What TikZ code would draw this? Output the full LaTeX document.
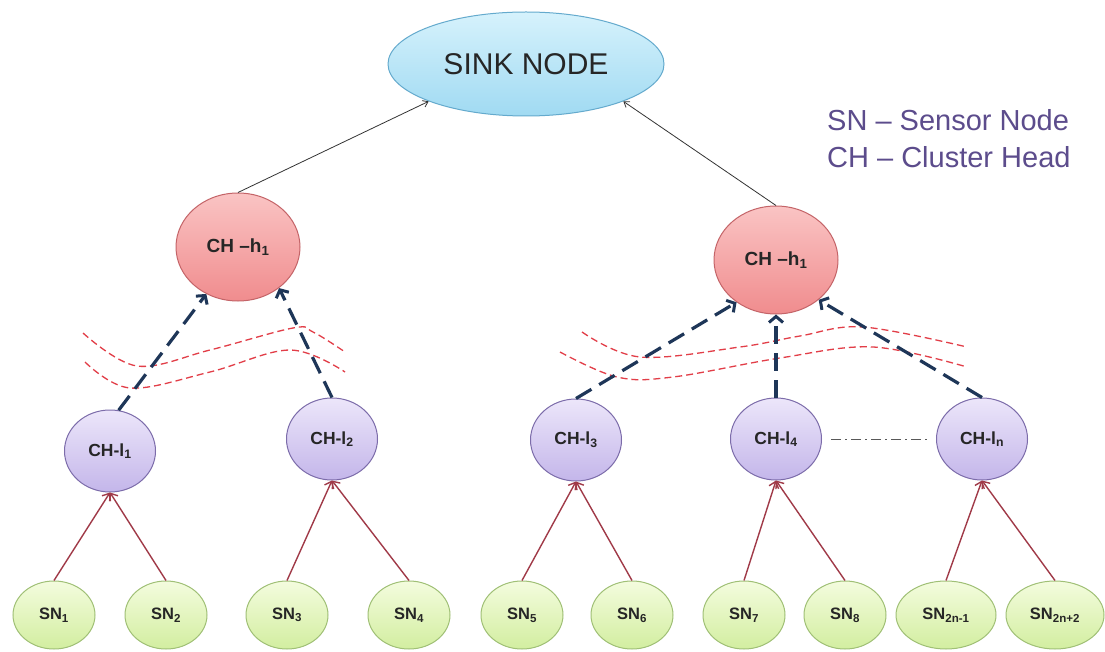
\documentclass[tikz,border=0pt]{standalone}
\usepackage{fontspec}
\setmainfont{Liberation Sans}
\usetikzlibrary{shapes.geometric,arrows.meta}
\definecolor{navy}{RGB}{30,54,88}
\definecolor{legendc}{RGB}{92,76,140}
\definecolor{wavec}{RGB}{226,62,72}
\definecolor{snarrow}{RGB}{160,58,72}
\definecolor{sinktop}{RGB}{214,242,252}
\definecolor{sinkbot}{RGB}{160,218,242}
\definecolor{sinkdraw}{RGB}{100,170,205}
\definecolor{hhtop}{RGB}{250,196,196}
\definecolor{hhbot}{RGB}{240,140,142}
\definecolor{hhdraw}{RGB}{196,100,104}
\definecolor{lltop}{RGB}{236,230,250}
\definecolor{llbot}{RGB}{196,182,234}
\definecolor{lldraw}{RGB}{124,108,170}
\definecolor{sntop}{RGB}{244,252,222}
\definecolor{snbot}{RGB}{210,238,160}
\definecolor{sndraw}{RGB}{160,192,118}
\begin{document}
\begin{tikzpicture}[x=1pt,y=-1pt,
  sinkbox/.style={ellipse,draw=sinkdraw,line width=1pt,top color=sinktop,bottom color=sinkbot,
    minimum width=276pt,minimum height=104pt,inner sep=0pt,
    font=\fontsize{30}{32}\selectfont,text=black!85},
  hhead/.style={ellipse,draw=hhdraw,line width=1pt,top color=hhtop,bottom color=hhbot,
    minimum width=124pt,minimum height=108pt,inner sep=0pt,
    font=\bfseries\fontsize{19}{21}\selectfont,text=black!85},
  lhead/.style={ellipse,draw=lldraw,line width=1pt,top color=lltop,bottom color=llbot,
    minimum width=91pt,minimum height=82pt,inner sep=0pt,
    font=\bfseries\fontsize{17.5}{19}\selectfont,text=black!85},
  snode/.style={ellipse,draw=sndraw,line width=1pt,top color=sntop,bottom color=snbot,
    minimum width=82pt,minimum height=68pt,inner sep=0pt,
    font=\bfseries\fontsize{16.5}{18}\selectfont,text=black!85},
  legendtext/.style={anchor=west,text=legendc,font=\fontsize{29}{31}\selectfont,inner sep=0pt},
  uparrow/.style={draw=black!80,line width=0.8pt,-{Straight Barb[length=5pt,width=7pt]}},
  navyarrow/.style={draw=navy,line width=3.2pt,dash pattern=on 18pt off 9pt,
    -{Straight Barb[length=6pt,width=14pt,line width=3pt]}},
  redarrow/.style={draw=snarrow,line width=1.4pt,-{Straight Barb[length=6pt,width=10pt,line width=1.4pt]}},
  wave/.style={draw=wavec,line width=1.3pt,dash pattern=on 7pt off 4pt},
  dotdash/.style={draw=black!65,line width=1pt,dash pattern=on 10pt off 4pt on 2pt off 4pt}
]
\useasboundingbox[fill=white] (0,0) rectangle (1105,652);

% waves
\draw[wave] plot[smooth,tension=0.6] coordinates {(83,333) (137,366) (210,350) (293,328) (313,332) (345,352)};
\draw[wave] plot[smooth,tension=0.6] coordinates {(85,362) (130,388) (210,372) (290,350) (345,372)};
\draw[wave] plot[smooth,tension=0.6] coordinates {(582,332) (640,357) (740,347) (800,336) (863,327) (967,347)};
\draw[wave] plot[smooth,tension=0.6] coordinates {(560,352) (617,377) (673,377) (780,358) (873,347) (967,367)};

% nodes
\node[sinkbox] (sink) at (526,64) {SINK NODE};
\node[hhead] (hL) at (238,247) {CH –h\textsubscript{1}};
\node[hhead] (hR) at (776,260) {CH –h\textsubscript{1}};

\node[lhead] (l1) at (110,451) {CH-l\textsubscript{1}};
\node[lhead] (l2) at (332,439) {CH-l\textsubscript{2}};
\node[lhead] (l3) at (576,440) {CH-l\textsubscript{3}};
\node[lhead] (l4) at (776,439) {CH-l\textsubscript{4}};
\node[lhead] (ln) at (982,439) {CH-l\textsubscript{n}};

\node[snode] (s1) at (54,615) {SN\textsubscript{1}};
\node[snode] (s2) at (166,615) {SN\textsubscript{2}};
\node[snode] (s3) at (287,615) {SN\textsubscript{3}};
\node[snode] (s4) at (409,615) {SN\textsubscript{4}};
\node[snode] (s5) at (522,615) {SN\textsubscript{5}};
\node[snode] (s6) at (632,615) {SN\textsubscript{6}};
\node[snode] (s7) at (744,615) {SN\textsubscript{7}};
\node[snode] (s8) at (845,615) {SN\textsubscript{8}};
\node[snode,minimum width=100pt] (s9) at (946,615) {SN\textsubscript{2n-1}};
\node[snode,minimum width=98pt] (s10) at (1055,615) {SN\textsubscript{2n+2}};

% legend
\node[legendtext] (leg1) at (827,120) {SN – Sensor Node};
\node[legendtext] (leg2) at (827,157) {CH – Cluster Head};

% black arrows to sink
\draw[uparrow] (hL.north) -- (sink.201);
\draw[uparrow] (hR.north) -- (sink.339);

% navy dashed arrows
\draw[navyarrow] (l1.78) -- (hL.236);
\draw[navyarrow] (l2.north) -- (hL.315);
\draw[navyarrow] (l3.north) -- (hR.227);
\draw[navyarrow] (l4.north) -- (hR.south);
\draw[navyarrow] (ln.north) -- (hR.317);

% dash-dot between CH-l4 and CH-ln
\draw[dotdash,shorten <=9pt,shorten >=9pt] (l4.east) -- (ln.west);

% red arrows from sensor nodes
\draw[redarrow] (s1.north) -- (l1.south);
\draw[redarrow] (s2.north) -- (l1.south);
\draw[redarrow] (s3.north) -- (l2.south);
\draw[redarrow] (s4.north) -- (l2.south);
\draw[redarrow] (s5.north) -- (l3.south);
\draw[redarrow] (s6.north) -- (l3.south);
\draw[redarrow] (s7.north) -- (l4.south);
\draw[redarrow] (s8.north) -- (l4.south);
\draw[redarrow] (s9.north) -- (ln.south);
\draw[redarrow] (s10.north) -- (ln.south);
\end{tikzpicture}
\end{document}
